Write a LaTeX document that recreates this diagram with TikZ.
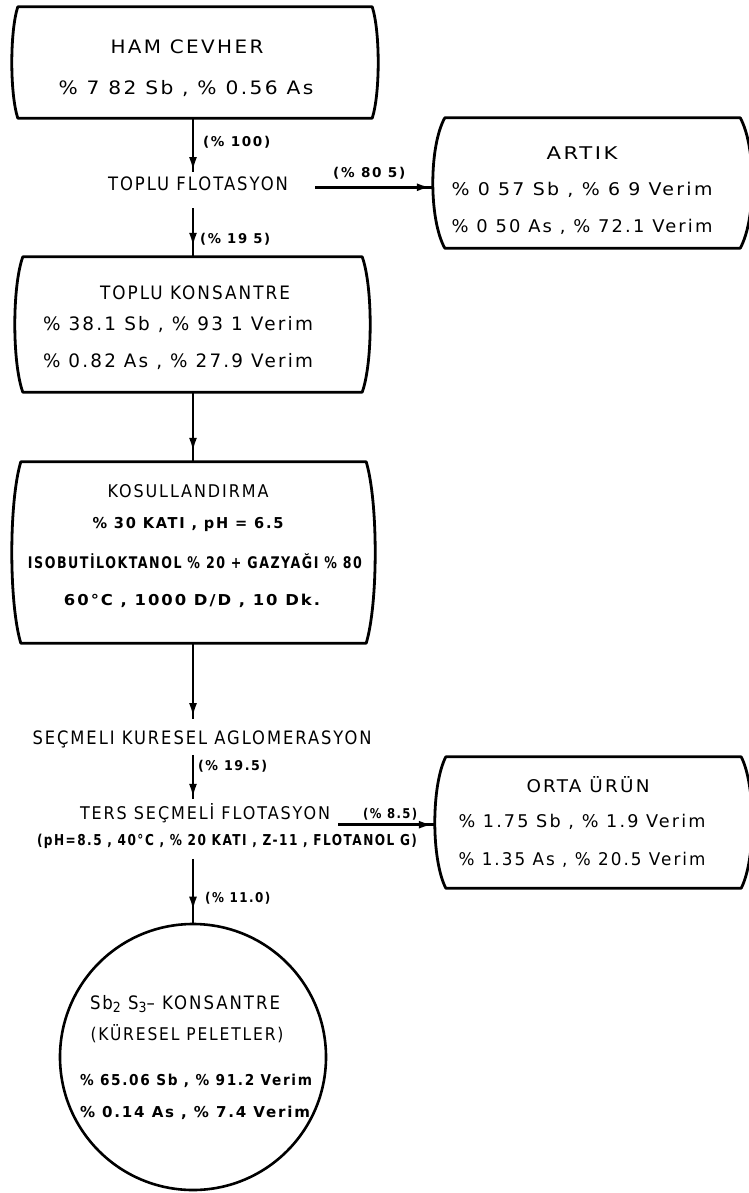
\documentclass[tikz,border=0pt]{standalone}
\usepackage{fontspec}
\setmainfont{DejaVu Sans}[LetterSpace=12]
\usepackage{graphicx}
\usetikzlibrary{calc,arrows.meta,decorations.markings}

% set a line of lettering to a given width by stretching it sideways
\newlength\fitlen
\newcommand\fitw[2]{\settowidth\fitlen{#2}\pgfmathsetmacro\fitratio{#1/\fitlen}\scalebox{\fitratio}[1]{#2}}
\newcommand\fs[1]{\fontsize{#1}{#1}\selectfont}

% outline of a box with flat top/bottom and outward-bowed sides
\newcommand\barrel[2]{%
  \draw[boxline]
    ($(#1.north west)+(#2,0)$) -- ($(#1.north east)+(-#2,0)$)
    .. controls ($(#1.north east)!0.22!(#1.south east)+(#2/3,0)$)
           and ($(#1.north east)!0.78!(#1.south east)+(#2/3,0)$) ..
    ($(#1.south east)+(-#2,0)$) -- ($(#1.south west)+(#2,0)$)
    .. controls ($(#1.north west)!0.78!(#1.south west)+(-#2/3,0)$)
           and ($(#1.north west)!0.22!(#1.south west)+(-#2/3,0)$) ..
    ($(#1.north west)+(#2,0)$) -- cycle;}

\tikzset{
  boxline/.style={line width=2.8pt, line join=round},
  frame/.style={draw=none, inner sep=0pt, rectangle},
  txt/.style={inner sep=0pt, anchor=base},
  lbl/.style={inner sep=0pt, anchor=base west, font=\fs{13.5}\bfseries},
  flow/.style={line width=2.6pt, postaction={decorate},
    decoration={markings, mark=at position #1 with {\arrow{Latex[length=14pt,width=8pt]}}}},
  flow/.default=-1pt
}

\begin{document}
\begin{tikzpicture}[x=1pt,y=-1pt]
\fill[white] (0,0) rectangle (748,1193);
\useasboundingbox (0,0) rectangle (748,1193);
\coordinate (col) at (193,0);

% ---- boxes ----
\node[frame, minimum width=366pt, minimum height=111pt] (ham) at (195,62.5) {};
\barrel{ham}{6}
\node[frame, minimum width=319pt, minimum height=130pt] (artik) at (592.5,183) {};
\barrel{artik}{12}
\node[frame, minimum width=355pt, minimum height=135pt] (tk) at (192.5,324.5) {};
\barrel{tk}{8}
\node[frame, minimum width=363pt, minimum height=181pt] (kos) at (193.5,552.5) {};
\barrel{kos}{9}
\node[frame, minimum width=317pt, minimum height=131pt] (orta) at (593.5,822.5) {};
\barrel{orta}{11}
\node[circle, draw, line width=2.6pt, minimum size=266pt, inner sep=0pt] (pel) at (193,1057) {};

% ---- texts in boxes ----
\node[txt, font=\fs{18.5}] (hamA) at (187,54) {\fitw{153pt}{HAM CEVHER}};
\node[txt, font=\fs{18.5}] (hamB) at (186,95) {\fitw{255pt}{\% 7 82 Sb , \% 0.56 As}};

\node[txt, font=\fs{17.5}] (artA) at (582,160) {\fitw{71pt}{ARTIK}};
\node[txt, font=\fs{17.5}] (artB) at (582,195) {\fitw{261pt}{\% 0 57 Sb , \% 6 9 Verim}};
\node[txt, font=\fs{17.5}] (artC) at (582,232) {\fitw{261pt}{\% 0 50 As , \% 72.1 Verim}};

\node[txt, font=\fs{18.5}] (tkA) at (195,299) {\fitw{190pt}{TOPLU KONSANTRE}};
\node[txt, font=\fs{18.5}] (tkB) at (178,330) {\fitw{270pt}{\% 38.1 Sb , \% 93 1 Verim}};
\node[txt, font=\fs{18.5}] (tkC) at (178,367) {\fitw{270pt}{\% 0.82 As , \% 27.9 Verim}};

\node[txt, font=\fs{17.5}] (kosA) at (188,497) {\fitw{161pt}{KOSULLANDIRMA}};
\node[txt, font=\fs{15}\bfseries] (kosB) at (188,528.5) {\fitw{191pt}{\% 30 KATI , pH = 6.5}};
\node[txt, font=\fs{16}\bfseries] (kosC) at (195,568) {\fitw{334pt}{ISOBUTİLOKTANOL \% 20 + GAZYAĞI \% 80}};
\node[txt, font=\fs{15}\bfseries] (kosD) at (192,605.5) {\fitw{256pt}{60°C , 1000 D/D , 10 Dk.}};

\node[txt, font=\fs{17.5}] (ortA) at (588,792) {\fitw{123pt}{ORTA ÜRÜN}};
\node[txt, font=\fs{17.5}] (ortB) at (582,827) {\fitw{247pt}{\% 1.75 Sb , \% 1.9 Verim}};
\node[txt, font=\fs{17.5}] (ortC) at (582,865) {\fitw{247pt}{\% 1.35 As , \% 20.5 Verim}};

\node[txt, font=\fs{18.5}] (pelA) at (185,1009) {\fitw{190pt}{Sb\raisebox{-0.35ex}{\fs{14}2} S\raisebox{-0.35ex}{\fs{14}3}– KONSANTRE}};
\node[txt, font=\fs{17.5}] (pelB) at (187,1040) {\fitw{193pt}{(KÜRESEL PELETLER)}};
\node[txt, font=\fs{15}\bfseries] (pelC) at (196,1085.5) {\fitw{232pt}{\% 65.06 Sb , \% 91.2 Verim}};
\node[txt, font=\fs{15}\bfseries] (pelD) at (195,1117.5) {\fitw{230pt}{\% 0.14 As , \% 7.4 Verim}};

% ---- process steps ----
\node[txt, font=\fs{18.5}] (tf) at (198,190) {\fitw{180pt}{TOPLU FLOTASYON}};
\node[txt, font=\fs{18.5}] (skag) at (202,744) {\fitw{339pt}{SEÇMELI KURESEL AGLOMERASYON}};
\node[txt, font=\fs{17.5}] (tsfA) at (205,819) {\fitw{250pt}{TERS SEÇMELİ FLOTASYON}};
\node[txt, font=\fs{15}\bfseries] (tsfB) at (227,845.5) {\fitw{380pt}{(pH=8.5 , 40°C , \% 20 KATI , Z-11 , FLOTANOL G)}};

% ---- stream labels ----
\node[lbl] (l100) at (203,147) {\fitw{67pt}{(\% 100)}};
\node[lbl] (l805) at (333,178) {\fitw{72pt}{(\% 80 5)}};
\node[lbl] (l195a) at (200,243) {\fitw{70pt}{(\% 19 5)}};
\node[lbl] (l195b) at (198,770) {\fitw{69pt}{(\% 19.5)}};
\node[lbl] (l85) at (363,818) {\fitw{54pt}{(\% 8.5)}};
\node[lbl] (l110) at (205,902) {\fitw{65pt}{(\% 11.0)}};

% ---- connectors ----
\draw[flow] (ham.south -| col) -- ([yshift=4pt]tf.north -| col);
\draw[flow=-10pt] ([yshift=-18pt]tf.south -| col) -- (tk.north -| col);
\coordinate (tfR) at ([xshift=27pt,yshift=-4pt]tf.east);
\draw[flow=-2pt] (tfR) -- (tfR -| artik.west);
\draw[flow=-10pt] (tk.south -| col) -- (kos.north -| col);
\draw[flow=-2pt] (kos.south -| col) -- ([yshift=11pt]skag.north -| col);
\draw[flow] ([yshift=-7pt]skag.south -| col) -- ([yshift=4pt]tsfA.north -| col);
\coordinate (tsR) at ([xshift=8pt,yshift=-12pt]tsfA.east);
\draw[flow=-2pt] (tsR) -- (tsR -| orta.west);
\draw[flow=-12pt] ([yshift=-10pt]tsfB.south -| col) -- (pel.north);
\end{tikzpicture}
\end{document}
